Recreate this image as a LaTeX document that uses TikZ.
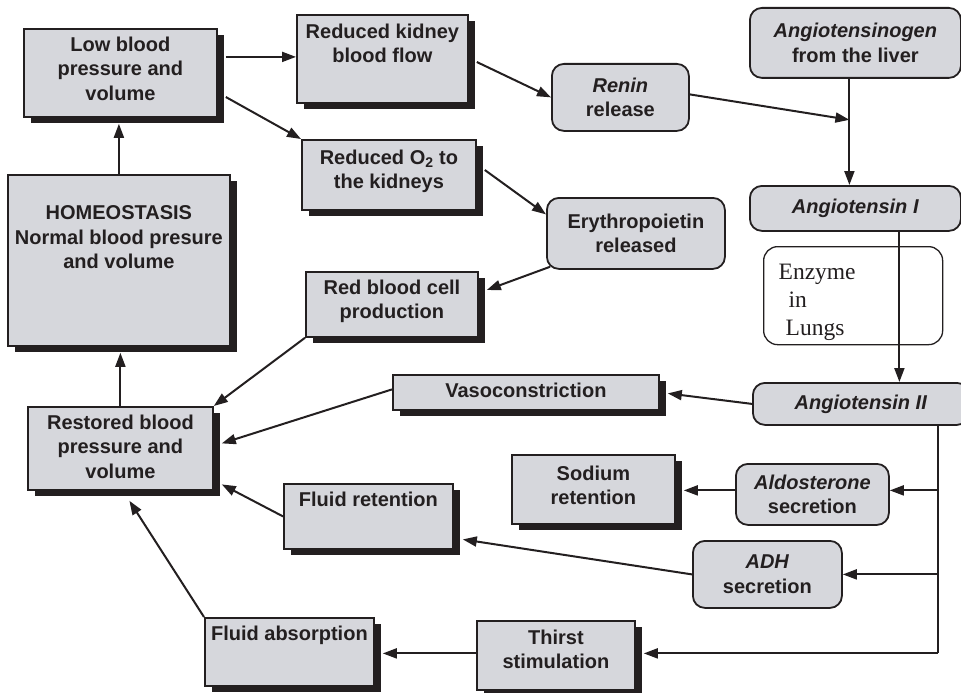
\documentclass[tikz,border=0pt]{standalone}
\usepackage{fontspec}
\setmainfont{Liberation Sans}
\newfontfamily\enzfont{Liberation Serif}
\usetikzlibrary{arrows.meta,calc,shadows}
\definecolor{ink}{HTML}{231F20}
\definecolor{boxfill}{HTML}{D6D7DC}
% top-aligned, centred text block of a fixed size: width, height, top padding, text
\newcommand\toptext[4]{\parbox[t][#2][t]{#1}{\centering\vspace*{#3}#4\par}}
\tikzset{
  base/.style={draw=ink, line width=1.8pt, fill=boxfill, text=ink, inner sep=0pt,
    anchor=north west, font=\fontsize{20}{24.5}\selectfont\bfseries},
  sqbox/.style={base, drop shadow={shadow xshift=7pt, shadow yshift=-6pt, fill=ink, opacity=1}},
  rbox/.style={base, rounded corners=12pt, align=center},
  arr/.style={draw=ink, line width=2pt, -{Triangle[length=14pt,width=10pt]}},
  link/.style={draw=ink, line width=2pt},
}
\begin{document}
\begin{tikzpicture}[x=1pt, y=-1pt]
\useasboundingbox (0,0) rectangle (961,693);
\clip (0,0) rectangle (961,693);

% square boxes with drop shadows
\node[sqbox] (low) at (23,28) {\toptext{193pt}{88pt}{8pt}{Low blood\\pressure and\\volume}};
\node[sqbox] (rkbf) at (296,14) {\toptext{171pt}{88pt}{9pt}{Reduced kidney\\blood flow}};
\node[sqbox] (ro2) at (301,139) {\toptext{174pt}{70pt}{10pt}{Reduced O\textsubscript{2} to\\the kidneys}};
\node[sqbox] (hom) at (7,174) {\toptext{222pt}{171pt}{31pt}{HOMEOSTASIS\\Normal blood presure\\and volume}};
\node[sqbox] (rbc) at (305,271) {\toptext{172pt}{65pt}{8pt}{Red blood cell\\production}};
\node[sqbox] (vaso) at (392,374) {\toptext{266pt}{35pt}{8pt}{Vasoconstriction}};
\node[sqbox] (rest) at (27,406) {\toptext{185pt}{83pt}{8pt}{Restored blood\\pressure and\\volume}};
\node[sqbox] (fret) at (283,483) {\toptext{169pt}{65pt}{8pt}{Fluid retention}};
\node[sqbox] (sod) at (511,454) {\toptext{163pt}{69pt}{11pt}{Sodium\\retention}};
\node[sqbox] (fabs) at (204,617) {\toptext{169pt}{68pt}{8pt}{Fluid absorption}};
\node[sqbox] (thirst) at (476,620) {\toptext{158pt}{69pt}{9pt}{Thirst\\stimulation}};

% rounded boxes
\node[rbox, minimum width=137pt, minimum height=67pt] (renin) at (551,63) {\textit{Renin}\\release};
\node[rbox, minimum width=211pt, minimum height=70pt] (agen) at (749,7) {\textit{Angiotensinogen}\\from the liver};
\node[rbox, minimum width=211pt, minimum height=45pt] (ang1) at (749,185) {\textit{Angiotensin I}};
\node[rbox, minimum width=178pt, minimum height=71pt] (epo) at (546,197) {Erythropoietin\\released};
\node[rbox, minimum width=216pt, minimum height=42pt] (ang2) at (752,382) {\textit{Angiotensin II}};
\node[rbox, minimum width=153pt, minimum height=61pt] (aldo) at (735,463) {\textit{Aldosterone}\\secretion};
\node[rbox, minimum width=149pt, minimum height=67pt] (adh) at (692,540) {\textit{ADH}\\secretion};

% enzyme note
\node[draw=ink, line width=1.3pt, fill=white, rounded corners=14pt, anchor=north west,
  minimum width=179pt, minimum height=98pt, inner xsep=15pt, inner ysep=0pt,
  text width=149pt, align=left, text height=28pt, text=ink,
  font=\enzfont\fontsize{23.5}{28}\selectfont] (enz) at (763,246)
  {Enzyme\\\hspace*{10pt}in\\\hspace*{7pt}Lungs};

% connectors: left column
\draw[arr] (hom.north) -- ($(hom.north |- low.south)+(0,6)$);
\draw[arr] (rest.north) -- ($(rest.north |- hom.south)+(0,6)$);
\draw[arr] ($(low.east |- rkbf.west)+(8,-2)$) -- ($(rkbf.west)+(0,-2)$);
\draw[arr] ($(low.north east)+(8,69)$) -- (ro2.north west);
\draw[arr] ($(rkbf.north east)+(8,48)$) -- (renin.west);
\draw[arr] ($(ro2.north east)+(8,31)$) -- ($(epo.west)+(0,-19)$);
\draw[arr] ($(epo.south west)+(4,-3)$) -- ($(rbc.north east)+(8,19)$);
\draw[arr] (rbc.south west) -- (rest.north east);

% renin-angiotensin chain
\coordinate (jn) at ($(agen.south)+(-6,41)$);
\draw[link] ($(agen.south)+(-6,0)$) -- (jn);
\draw[arr] (jn) -- (jn |- ang1.north);
\draw[arr] ($(renin.east)+(0,-3)$) -- (jn);
\coordinate (a1) at ($(ang1.south)+(44,0)$);
\draw[arr] (a1) -- (a1 |- ang2.north);

% effects of angiotensin II
\draw[arr] (ang2.west) -- ($(vaso.east)+(8,1)$);
\draw[arr] ($(vaso.west)+(0,-3)$) -- ($(rest.east)+(8,-5)$);
\coordinate (tk) at ($(ang2.south)+(77,0)$);
\coordinate (tb) at ($(tk |- thirst.east)+(0,-2)$);
\draw[link] (tk) -- (tb);
\draw[arr] ($(tk |- aldo.east)+(0,-4)$) -- ($(aldo.east)+(0,-4)$);
\draw[arr] (tk |- adh.east) -- (adh.east);
\draw[arr] (tb) -- ($(thirst.east)+(8,-2)$);
\draw[arr] ($(aldo.west)+(0,-4)$) -- ($(sod.east |- aldo.west)+(8,-4)$);
\draw[arr] (adh.west) -- ($(fret.east)+(9,23)$);
\draw[arr] ($(thirst.west)+(0,-2)$) -- ($(fabs.east |- thirst.west)+(8,-2)$);

% back to restored pressure
\draw[arr] (fret.west) -- ($(rest.east)+(8,36)$);
\draw[arr] (fabs.north west) -- ($(rest.south)+(9,10)$);
\end{tikzpicture}
\end{document}
